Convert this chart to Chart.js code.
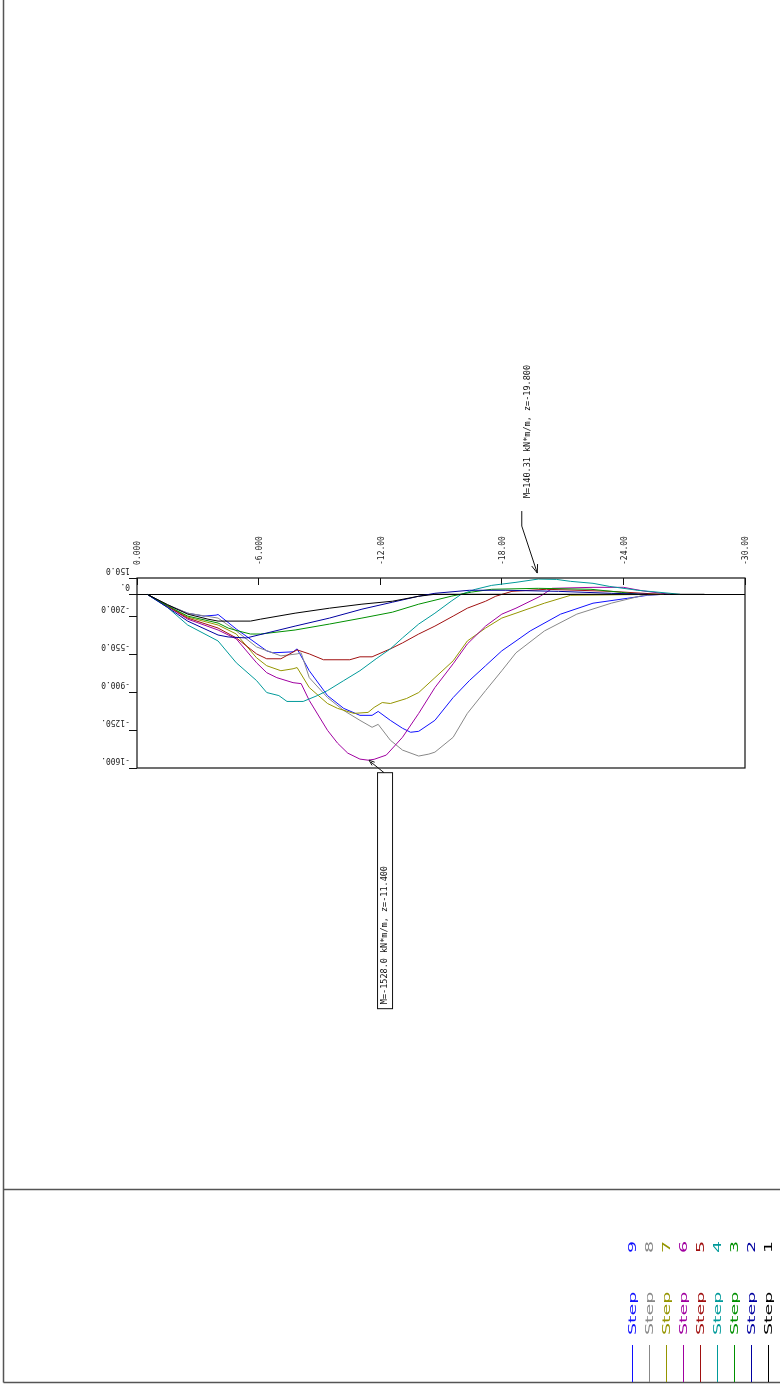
<!DOCTYPE html>
<html>
<head>
<meta charset="utf-8">
<script src="https://cdn.jsdelivr.net/npm/chart.js@4.4.0/dist/chart.umd.min.js"></script>
<style>
  html, body { margin: 0; padding: 0; background: #fff; }
  canvas { display: block; }
</style>
</head>
<body>
<canvas id="moments" width="780" height="1385"></canvas>
<script>
// bending moment envelope per construction step (z in m, M in kN*m/m)
const stepNames = ['Step 1', 'Step 2', 'Step 3', 'Step 4', 'Step 5', 'Step 6', 'Step 7', 'Step 8', 'Step 9'];
const stepColors = ['#000000', '#0000a0', '#009000', '#009a9a', '#a01010', '#a000a0', '#959500', '#888888', '#1010ff'];

const step1Depth = [-0.5, -1.5, -2.5, -3.5, -4, -5.6, -6.1, -7.8, -9.5, -11.1, -12.6, -13.9, -14.7, -28];
const step1Moment = [0, -95, -183, -229, -247, -247, -229, -174, -128, -91, -64, -18, 0, 0];

const step2Depth = [-0.5, -1.5, -2.5, -4, -4.5, -5.4, -6.4, -7.8, -9.5, -11.1, -12.6, -13.9, -14.7, -16.4, -18.2, -20.8, -23.4, -25.2];
const step2Moment = [0, -120, -247, -375, -393, -402, -357, -293, -219, -137, -73, -18, 9, 37, 37, 27, 9, 0];

const step3Depth = [-0.5, -1.5, -2.5, -4, -4.5, -5, -5.6, -6.1, -7.8, -9.5, -11.1, -12.6, -13.9, -15.5, -16.5, -17.5, -19.8, -22.4, -23.9, -24.7];
const step3Moment = [0, -105, -201, -265, -311, -338, -366, -366, -329, -274, -219, -165, -91, -18, 20, 46, 55, 46, 18, 0];

const step4Depth = [-0.5, -1.5, -2.5, -4, -4.9, -5.9, -6.4, -7, -7.4, -8.2, -8.9, -9.4, -10.2, -11, -11.8, -12.5, -13.1, -13.9, -14.7, -15.5, -16, -16.7, -17.5, -18.7, -19.8, -20.7, -21.4, -22.5, -23.3, -24.7, -26.3, -26.8];
const step4Moment = [0, -120, -283, -430, -631, -795, -905, -933, -987, -987, -933, -887, -795, -704, -594, -503, -402, -274, -174, -64, 0, 46, 82, 110, 140.31, 137, 119, 101, 73, 37, 9, 0];

const step5Depth = [-0.5, -1.5, -2.5, -4, -4.9, -5.9, -6.4, -7.1, -7.9, -8.5, -9.2, -10.5, -11, -11.6, -12.5, -13.1, -13.9, -14.7, -15.6, -16.3, -17.2, -17.7, -18.5, -20.2, -23.4, -25.8];
const step5Moment = [0, -110, -219, -311, -402, -549, -594, -594, -512, -549, -603, -603, -576, -576, -503, -448, -366, -293, -201, -128, -64, -18, 27, 46, 27, 0];

const step6Depth = [-0.5, -1.5, -2.5, -4, -4.9, -5.9, -6.4, -6.9, -7.7, -8.1, -8.5, -9.4, -9.9, -10.4, -11, -11.4, -11.7, -12.3, -13.1, -13.9, -14.7, -15.6, -16.3, -17.2, -18, -18.7, -19.9, -20.5, -22.5, -24, -25, -26.3];
const step6Moment = [0, -110, -229, -329, -411, -631, -722, -768, -814, -823, -978, -1253, -1372, -1463, -1518, -1528, -1520, -1481, -1317, -1097, -859, -640, -457, -293, -183, -128, -18, 55, 64, 64, 30, 0];

const step7Depth = [-0.5, -1.5, -2.5, -4, -4.9, -5.9, -6.4, -7.1, -7.7, -7.9, -8.5, -9.4, -9.9, -10.7, -11.4, -11.7, -12.1, -12.5, -13.3, -13.9, -14.7, -15.6, -16.3, -17.2, -18, -18.7, -20.1, -21.4, -26];
const step7Moment = [0, -105, -210, -283, -366, -585, -658, -704, -686, -675, -859, -1006, -1051, -1097, -1088, -1042, -997, -1006, -960, -905, -768, -613, -430, -311, -219, -174, -82, -9, 0];

const step8Depth = [-0.5, -1.5, -2.5, -4, -4.9, -5.9, -7.1, -7.9, -8.1, -8.5, -9.4, -10.2, -11, -11.6, -11.9, -12.5, -13.1, -13.9, -14.4, -14.7, -15.6, -16.3, -17.2, -18, -18.7, -20.1, -21.7, -23.4, -25, -26];
const step8Moment = [0, -95, -174, -219, -338, -485, -567, -549, -540, -768, -951, -1070, -1161, -1225, -1198, -1344, -1435, -1490, -1472, -1454, -1317, -1097, -887, -704, -539, -338, -183, -82, -9, 0];

const step9Depth = [-0.5, -1.5, -2.5, -3.3, -3.9, -4, -4.9, -6.4, -6.7, -7.7, -7.9, -8.5, -9.4, -10.2, -11, -11.6, -11.9, -12.5, -13.1, -13.5, -13.9, -14.7, -15.6, -16.4, -17.2, -18, -18.7, -19.4, -20.9, -22.5, -24.2, -25.2, -26];
const step9Moment = [0, -100, -174, -201, -192, -186, -320, -521, -539, -530, -503, -704, -933, -1051, -1115, -1115, -1079, -1161, -1234, -1271, -1262, -1161, -951, -795, -658, -521, -430, -338, -183, -82, -37, -9, 0];

const xTickValues = [0, -6, -12, -18, -24, -30];
const xTickLabels = ['0.000', '-6.000', '-12.00', '-18.00', '-24.00', '-30.00'];
const yTickValues = [150, 0, -200, -550, -900, -1250, -1600];
const yTickLabels = ['150.0', '0.', '-200.0', '-550.0', '-900.0', '-1250.', '-1600.'];

// extreme value callouts
const calloutDepth = [-19.8, -11.4];
const calloutMoment = [140.31, -1528.0];
const calloutText = ['M=140.31 kN*m/m, z=-19.800', 'M=-1528.0 kN*m/m, z=-11.400'];

const depths = [step1Depth, step2Depth, step3Depth, step4Depth, step5Depth, step6Depth, step7Depth, step8Depth, step9Depth];
const moments = [step1Moment, step2Moment, step3Moment, step4Moment, step5Moment, step6Moment, step7Moment, step8Moment, step9Moment];

const MONO = '"DejaVu Sans Mono", "Liberation Mono", monospace';

function line(ctx, x1, y1, x2, y2) {
    ctx.beginPath();
    ctx.moveTo(x1, y1);
    ctx.lineTo(x2, y2);
    ctx.stroke();
}

function arrowHead(ctx, fromX, fromY, tipX, tipY, size) {
    const ang = Math.atan2(tipY - fromY, tipX - fromX);
    line(ctx, tipX, tipY, tipX - size * Math.cos(ang - 0.35), tipY - size * Math.sin(ang - 0.35));
    line(ctx, tipX, tipY, tipX - size * Math.cos(ang + 0.35), tipY - size * Math.sin(ang + 0.35));
}

function rotatedText(ctx, text, x, y, angle, stretch = 1) {
    ctx.save();
    ctx.translate(x, y);
    ctx.rotate(angle);
    ctx.scale(stretch, 1);
    ctx.fillText(text, 0, 0);
    ctx.restore();
}

const sheetPlugin = {
    id: 'sheet',
    afterDraw(chart) {
        const { ctx, chartArea: area } = chart;
        const xs = chart.scales.x;
        const ys = chart.scales.y;
        ctx.save();

        // page frame
        ctx.strokeStyle = '#555';
        ctx.lineWidth = 1.5;
        line(ctx, 3.5, 0, 3.5, 1382.5);
        line(ctx, 3.5, 1189.5, 780, 1189.5);
        line(ctx, 3.5, 1382.5, 780, 1382.5);

        // plot box
        ctx.strokeStyle = '#111';
        ctx.lineWidth = 1.2;
        ctx.strokeRect(area.left, area.top, area.right - area.left, area.bottom - area.top);

        // y tick labels (printed upside down)
        ctx.fillStyle = '#222';
        ctx.font = '8px ' + MONO;
        ctx.textAlign = 'left';
        ctx.textBaseline = 'middle';
        ys.ticks.forEach((t, i) => {
            rotatedText(ctx, yTickLabels[i], area.left - 7, ys.getPixelForValue(t.value) - 8, Math.PI);
        });

        // callout at maximum
        ctx.strokeStyle = '#111';
        ctx.lineWidth = 1;
        let px = xs.getPixelForValue(calloutDepth[0]);
        let py = ys.getPixelForValue(calloutMoment[0]);
        line(ctx, px - 16.5, py - 68, px - 16.5, py - 53);
        line(ctx, px - 16.5, py - 53, px - 1, py - 6);
        arrowHead(ctx, px - 16.5, py - 53, px - 1, py - 6, 9);
        ctx.fillStyle = '#111';
        ctx.font = '8.5px ' + MONO;
        ctx.textBaseline = 'middle';
        rotatedText(ctx, calloutText[0], px - 10, py - 81, -Math.PI / 2);

        // callout at minimum
        px = xs.getPixelForValue(calloutDepth[1]);
        py = ys.getPixelForValue(calloutMoment[1]);
        ctx.strokeRect(px + 9.5, py + 12.5, 15, 236);
        line(ctx, px + 16, py + 12.5, px + 3, py + 2);
        arrowHead(ctx, px + 16, py + 12.5, px + 1, py, 6);
        rotatedText(ctx, calloutText[1], px + 17, py + 244, -Math.PI / 2);

        // legend: colour stub + rotated step name
        ctx.font = '10px "DejaVu Sans", sans-serif';
        ctx.textBaseline = 'alphabetic';
        chart.data.datasets.forEach((ds, i) => {
            const lx = 768 - i * 17.0;
            ctx.strokeStyle = ds.borderColor;
            ctx.lineWidth = 1;
            line(ctx, lx + 0.5, 1345, lx + 0.5, 1382);
            ctx.fillStyle = ds.borderColor;
            const [word, num] = ds.label.split(' ');
            rotatedText(ctx, word, lx + 4, 1335, -Math.PI / 2, 1.9);
            rotatedText(ctx, num, lx + 4, 1253, -Math.PI / 2, 1.9);
        });

        ctx.restore();
    }
};

const datasets = stepNames.map((name, i) => ({
    label: name,
    data: depths[i].map((z, k) => ({ x: z, y: moments[i][k] })),
    borderColor: stepColors[i],
    borderWidth: 1,
    pointRadius: 0,
    tension: 0,
    fill: false,
}));

new Chart(document.getElementById('moments'), {
    type: 'line',
    data: { datasets },
    options: {
        responsive: false,
        animation: false,
        layout: { padding: { left: 0, top: 0, right: 35, bottom: 617 } },
        plugins: { legend: { display: false }, tooltip: { enabled: false } },
        scales: {
            x: {
                type: 'linear',
                position: 'top',
                min: -30,
                max: 0,
                reverse: true,
                border: { display: false },
                grid: { drawOnChartArea: false, drawTicks: true, tickLength: -7, tickColor: '#111' },
                ticks: {
                    minRotation: 90,
                    maxRotation: 90,
                    padding: 20,
                    labelOffset: 11,
                    color: '#222',
                    font: { family: MONO, size: 8 },
                    callback: (v, i) => xTickLabels[i],
                },
                afterBuildTicks: (scale) => { scale.ticks = xTickValues.map(v => ({ value: v })); },
                afterFit: (scale) => { scale.height = 578; },
            },
            y: {
                type: 'linear',
                min: -1600,
                max: 150,
                border: { display: false },
                grid: {
                    drawTicks: true,
                    tickLength: 8,
                    tickColor: '#111',
                    color: (c) => (c.tick && c.tick.value === 0 ? '#000' : 'rgba(0,0,0,0)'),
                    lineWidth: 1,
                },
                ticks: { display: false },
                afterBuildTicks: (scale) => { scale.ticks = yTickValues.map(v => ({ value: v })); },
                afterFit: (scale) => { scale.width = 137; },
            },
        },
    },
    plugins: [sheetPlugin],
});
</script>
</body>
</html>
